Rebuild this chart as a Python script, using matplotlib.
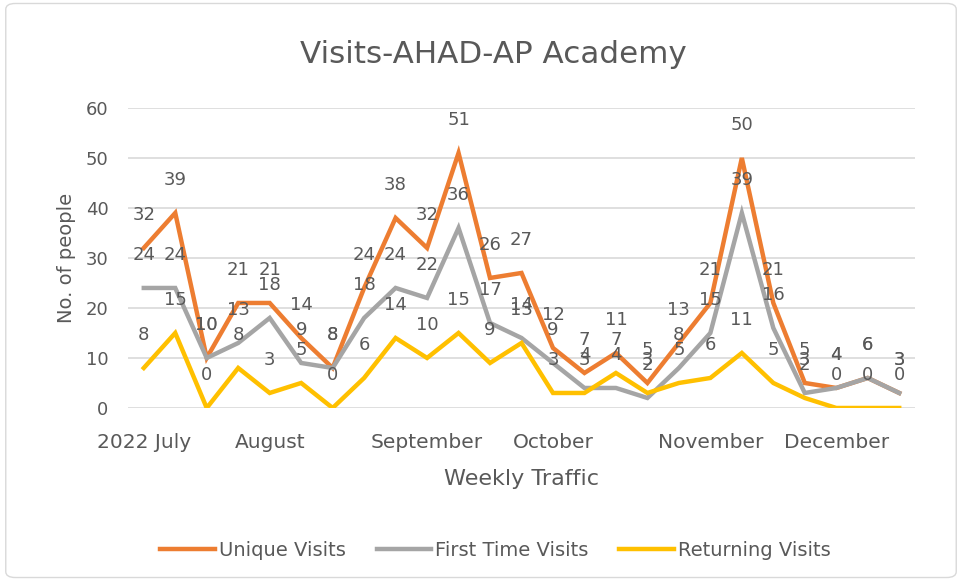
import numpy as np
import matplotlib.pyplot as plt
from matplotlib.patches import FancyBboxPatch

plt.rcParams['font.family'] = ['DejaVu Sans']

# weekly values, July 2022 - December 2022
unique_visits = [32, 39, 10, 21, 21, 14, 8, 24, 38, 32, 51, 26, 27, 12, 7, 11, 5, 13, 21, 50, 21, 5, 4, 6, 3]
first_time = [24, 24, 10, 13, 18, 9, 8, 18, 24, 22, 36, 17, 14, 9, 4, 4, 2, 8, 15, 39, 16, 3, 4, 6, 3]
returning = [8, 15, 0, 8, 3, 5, 0, 6, 14, 10, 15, 9, 13, 3, 3, 7, 3, 5, 6, 11, 5, 2, 0, 0, 0]
month_labels = {0: '2022 July', 4: 'August', 9: 'September', 13: 'October', 18: 'November', 22: 'December'}

text_col = '#595959'
series = [
    ('Unique Visits', unique_visits, '#ED7D31'),
    ('First Time Visits', first_time, '#A5A5A5'),
    ('Returning Visits', returning, '#FFC000'),
]

fig = plt.figure(figsize=(9.62, 5.81), dpi=100)
ax = fig.add_axes([0.1331, 0.2978, 0.818, 0.5164])

x = np.arange(len(unique_visits))
for name, vals, col in series:
    ax.plot(x, vals, color=col, lw=3.2, label=name, solid_joinstyle='miter')
for name, vals, col in series:
    for xi, v in zip(x, vals):
        ax.annotate(str(v), (xi, v), xytext=(0, 24), textcoords='offset points',
                    ha='center', va='center', fontsize=13, color=text_col)

ax.set_xlim(-0.5, len(x) - 0.5)
ax.set_ylim(0, 60)
ax.set_yticks(range(0, 61, 10))
ax.set_xticks(x)
ax.set_xticklabels([month_labels.get(i, '') for i in x])
ax.tick_params(length=0, labelcolor=text_col)
ax.tick_params(axis='x', pad=18, labelsize=14.5)
ax.tick_params(axis='y', pad=14, labelsize=13)
ax.grid(axis='y', color='#D9D9D9', lw=1.2)
ax.set_axisbelow(True)
for s in ax.spines.values():
    s.set_visible(False)

ax.set_xlabel('Weekly Traffic', fontsize=16, color=text_col, labelpad=12)
ax.set_ylabel('No. of people', fontsize=14, color=text_col, labelpad=7)
fig.text(0.513, 0.907, 'Visits-AHAD-AP Academy', ha='center', va='center', fontsize=22.3, color=text_col)

fig.legend(loc='center', bbox_to_anchor=(0.515, 0.053), ncol=3, frameon=False,
           fontsize=14, handlelength=2.8, handletextpad=0.2, columnspacing=1.6, labelcolor=text_col)

fig.patches.append(FancyBboxPatch((0.006, 0.006), 0.988, 0.988, boxstyle='round,pad=0,rounding_size=0.01',
                                  transform=fig.transFigure, fill=False, edgecolor='#D9D9D9', lw=1))

fig.savefig('out.png', dpi=100)
